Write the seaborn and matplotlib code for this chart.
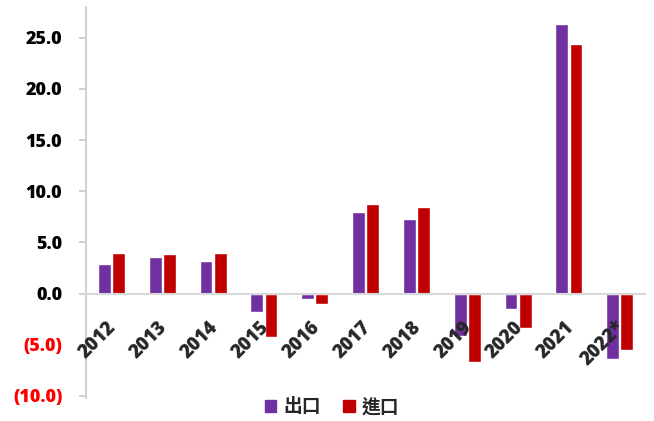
import matplotlib
matplotlib.use("Agg")
import matplotlib.pyplot as plt
import matplotlib.patches as mpatches
import matplotlib.transforms as mtransforms
import seaborn as sns
import pandas as pd

years = ["2012", "2013", "2014", "2015", "2016", "2017", "2018", "2019", "2020", "2021", "2022*"]
exports = [2.85, 3.57, 3.18, -1.85, -0.55, 8.0, 7.3, -4.15, -1.5, 26.35, -6.45]
imports = [3.96, 3.86, 3.96, -4.25, -1.04, 8.75, 8.5, -6.65, -3.4, 24.4, -5.55]
series_names = ["出口", "進口"]
colors = ["#7030A0", "#C00000"]
yticks = [-10, -5, 0, 5, 10, 15, 20, 25]

df = pd.DataFrame({
    "year": years * 2,
    "value": exports + imports,
    "series": [series_names[0]] * len(years) + [series_names[1]] * len(years),
})

sns.set_style("white")
plt.rcParams["font.family"] = ["Open Sans", "Noto Sans CJK TC", "DejaVu Sans"]

fig = plt.figure(figsize=(6.54, 4.21), dpi=100)
ax = fig.add_axes([0.1315, 0.055, 0.855, 0.928])

sns.barplot(data=df, x="year", y="value", hue="series", palette=colors,
            width=0.56, gap=0.1, ax=ax, legend=False, saturation=1)

ax.set_xlim(-0.5, len(years) - 0.5)
ax.set_ylim(-10.2, 28)
ax.set_xlabel("")
ax.set_ylabel("")

axis_grey = "#C8C8C8"
for side in ["top", "right"]:
    ax.spines[side].set_visible(False)
ax.spines["left"].set_color(axis_grey)
ax.spines["left"].set_linewidth(1.2)
ax.spines["bottom"].set_position(("data", 0))
ax.spines["bottom"].set_color("#D9D9D9")
ax.spines["bottom"].set_linewidth(1.5)
ax.xaxis.set_zorder(5)

label_weight = 800
ax.set_yticks(yticks)
ylabels = [f"{v:.1f}" if v >= 0 else f"({abs(v):.1f})" for v in yticks]
ax.set_yticklabels(ylabels, fontsize=13, fontweight=label_weight)
for lab, v in zip(ax.get_yticklabels(), yticks):
    lab.set_color("#FF0000" if v < 0 else "black")
ax.tick_params(axis="y", direction="out", length=5, width=1.2, color=axis_grey, pad=12, left=True)

# rotated year labels hang just under the zero line
ax.tick_params(axis="x", length=0, pad=17)
shift = mtransforms.ScaledTranslation(-5 / 100, 0, fig.dpi_scale_trans)
for lab in ax.get_xticklabels():
    lab.set_fontsize(13.5)
    lab.set_fontweight(label_weight)
    lab.set_rotation(45)
    lab.set_ha("right")
    lab.set_rotation_mode("anchor")
    lab.set_transform(lab.get_transform() + shift)

handles = [mpatches.Patch(color=c, label=n) for c, n in zip(colors, series_names)]
fig.legend(handles=handles, loc="center", bbox_to_anchor=(332 / 654, 1 - 407 / 421),
           ncol=2, frameon=False, handlelength=0.6, handleheight=0.6,
           handletextpad=0.4, columnspacing=1.2,
           prop={"family": ["Noto Sans CJK TC"], "weight": "bold", "size": 13.5})

fig.savefig("out.png", dpi=100)
